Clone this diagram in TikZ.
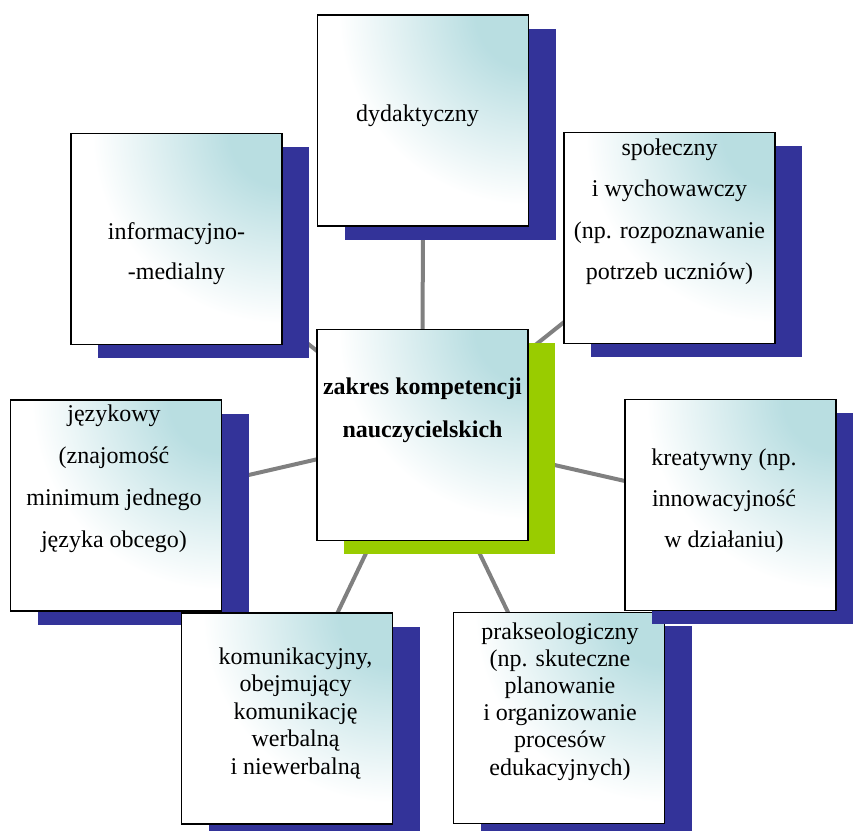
\documentclass[tikz,border=0pt]{standalone}
\usepackage{fontspec}
\setmainfont{Liberation Serif}
\usetikzlibrary{shadows,shadings}
\definecolor{navyshade}{RGB}{51,51,153}
\definecolor{limeshade}{RGB}{153,204,0}
\definecolor{linkgray}{RGB}{128,128,128}
\pgfdeclarelayer{background}
\pgfsetlayers{background,main}
\pgfdeclarefunctionalshading{cardshade}{\pgfpoint{0bp}{0bp}}{\pgfpoint{100bp}{100bp}}{}{
  75 exch sub 50 div dup mul exch 75 exch sub 50 div dup mul add sqrt
  0.25 sub 0.65 div
  dup 0 lt {pop 0} if dup 1 gt {pop 1} if
  dup 0.275 mul 0.725 add exch dup 0.13 mul 0.87 add exch 0.116 mul 0.884 add
}
\newcommand{\cardlines}[1]{\begin{tabular}[t]{@{}c@{}}#1\end{tabular}}
\begin{document}
\begin{tikzpicture}[x=1pt,y=-1pt,
  card/.style={draw=black, line width=1.6pt, minimum width=211pt, minimum height=211pt,
    inner sep=0pt, shading=cardshade},
  navyshadow/.style={general shadow={fill=navyshade, shadow xshift=27pt, shadow yshift=-13.5pt}},
  limeshadow/.style={general shadow={fill=limeshade, shadow xshift=27pt, shadow yshift=-13.5pt}},
  cardtext/.style={anchor=base, inner sep=0pt, font=\fontsize{24}{#1}\selectfont},
  link/.style={draw=linkgray, line width=4pt}]
\useasboundingbox (0,0) rectangle (853,830);

\node[card, navyshadow] (dyd) at (423,120.5) {};
\node[card, navyshadow] (inf) at (176.5,239) {};
\node[card, navyshadow] (spo) at (669.5,238) {};
\node[card, limeshadow] (cen) at (422.5,435) {};
\node[card, navyshadow] (jez) at (116,505.5) {};
\node[card, navyshadow] (kom) at (287,718.5) {};
\node[card, navyshadow] (pra) at (559,718) {};
\node[card, navyshadow] (kre) at (730.5,505) {};

\begin{pgfonlayer}{background}
\foreach \n in {dyd,spo,inf,jez,kom,pra,kre}
  \draw[link] (cen.center) -- (\n.center);
\end{pgfonlayer}

\node[cardtext=41.5] (tdyd) at (417.5,121) {\cardlines{dydaktyczny}};
\node[cardtext=41.5] (tspo) at (669.5,155) {\cardlines{społeczny\\ i wychowawczy\\ (np. rozpoznawanie\\ potrzeb uczniów)}};
\node[cardtext=40] (tinf) at (176.5,239) {\cardlines{informacyjno-\\ -medialny}};
\node[cardtext=43] (tcen) at (422.5,394) {\cardlines{\bfseries zakres kompetencji\\ \bfseries nauczycielskich}};
\node[cardtext=42] (tjez) at (114,421) {\cardlines{językowy\\ (znajomość\\ minimum jednego\\ języka obcego)}};
\node[cardtext=41] (tkre) at (724,465) {\cardlines{kreatywny (np.\\ innowacyjność\\ w działaniu)}};
\node[cardtext=27.5] (tkom) at (295.5,664) {\cardlines{komunikacyjny,\\ obejmujący\\ komunikację\\ werbalną\\ i niewerbalną}};
\node[cardtext=27.2] (tpra) at (560,639) {\cardlines{prakseologiczny\\ (np. skuteczne\\ planowanie\\ i organizowanie\\ procesów\\ edukacyjnych)}};
\end{tikzpicture}
\end{document}
